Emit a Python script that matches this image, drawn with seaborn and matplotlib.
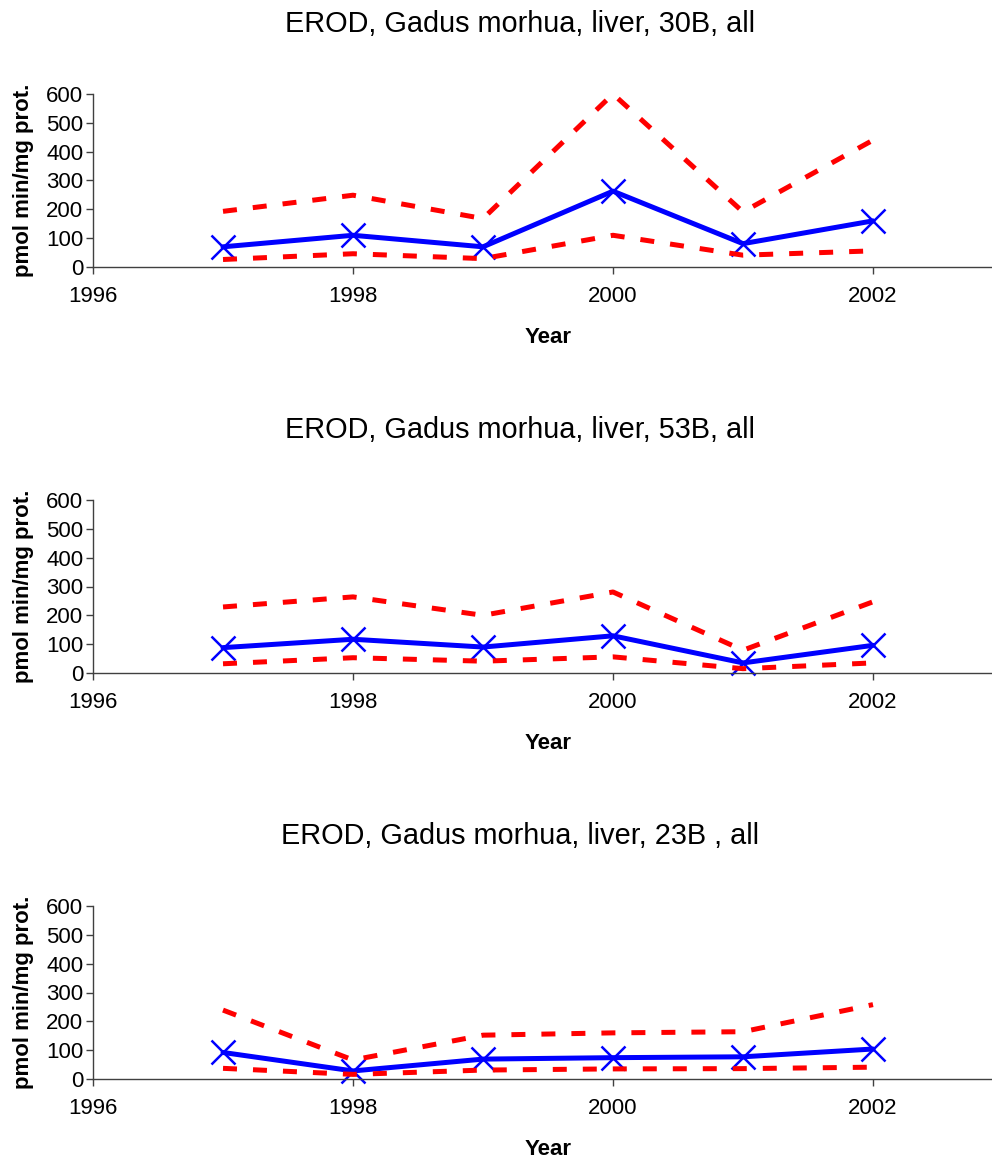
import matplotlib
matplotlib.use("Agg")
import matplotlib.pyplot as plt
import seaborn as sns
import pandas as pd

# ---- data ----
years = [1997, 1998, 1999, 2000, 2001, 2002]

titles = ["EROD, Gadus morhua, liver, 30B, all",
          "EROD, Gadus morhua, liver, 53B, all",
          "EROD, Gadus morhua, liver, 23B , all"]

mean_30B = [70, 110, 70, 263, 81, 160]
upper_30B = [193, 249, 168, 600, 191, 440]
lower_30B = [26, 46, 29, 110, 41, 56]

mean_53B = [88, 117, 90, 129, 35, 96]
upper_53B = [229, 264, 200, 281, 79, 247]
lower_53B = [32, 53, 41, 56, 15, 35]

mean_23B = [92, 28, 69, 74, 77, 104]
upper_23B = [239, 66, 152, 160, 164, 258]
lower_23B = [37, 16, 31, 35, 36, 41]

x_ticks = [1996, 1998, 2000, 2002]
y_ticks = [0, 100, 200, 300, 400, 500, 600]
x_label = "Year"
y_label = "pmol min/mg prot."

panels = [
    (titles[0], mean_30B, upper_30B, lower_30B),
    (titles[1], mean_53B, upper_53B, lower_53B),
    (titles[2], mean_23B, upper_23B, lower_23B),
]

# ---- style ----
sns.set_style("white")
plt.rcParams["font.family"] = ["Liberation Sans", "DejaVu Sans"]
plt.rcParams["text.color"] = "black"
plt.rcParams["axes.labelcolor"] = "black"

W, H = 992, 1158
fig = plt.figure(figsize=(W / 100, H / 100), dpi=100)

tops = [94, 500, 906]
bottoms = [267, 673, 1079]
left_px = 93
width_px = 910
spine_col = "#404040"

for (title, mean, upper, lower), top, bot in zip(panels, tops, bottoms):
    ax = fig.add_axes([left_px / W, 1 - bot / H, width_px / W, (bot - top) / H])
    df = pd.DataFrame({"Year": years, "mean": mean, "upper": upper, "lower": lower})

    sns.lineplot(data=df, x="Year", y="mean", ax=ax, color="#0000ff",
                 linewidth=3.6, marker="x", markersize=17,
                 markeredgewidth=1.8, markeredgecolor="#0000ff",
                 errorbar=None, clip_on=False)
    sns.lineplot(data=df, x="Year", y="upper", ax=ax, color="#ff0000",
                 linewidth=3.6, linestyle=(0, (2.8, 3.2)), errorbar=None, clip_on=False)
    sns.lineplot(data=df, x="Year", y="lower", ax=ax, color="#ff0000",
                 linewidth=3.6, linestyle=(0, (2.8, 3.2)), errorbar=None, clip_on=False)

    ax.set_xlim(1996, 2003)
    ax.set_ylim(0, 600)
    ax.set_xticks(x_ticks)
    ax.set_yticks(y_ticks)
    ax.set_xticklabels([str(t) for t in x_ticks])
    ax.set_yticklabels([str(t) for t in y_ticks])

    for s in ["top", "right"]:
        ax.spines[s].set_visible(False)
    for s in ["left", "bottom"]:
        ax.spines[s].set_color(spine_col)
        ax.spines[s].set_linewidth(1.0)

    ax.tick_params(axis="both", direction="out", length=5, width=1,
                   color=spine_col, labelsize=16, labelcolor="black",
                   bottom=True, left=True)
    ax.tick_params(axis="x", pad=9)
    ax.tick_params(axis="y", pad=2)

    ax.set_xlabel(x_label, fontsize=16, fontweight="bold", labelpad=14)
    ax.set_ylabel(y_label, fontsize=16, fontweight="bold", labelpad=9)
    ax.set_title(title, fontsize=20.8, x=0.469, pad=45, color="black")

fig.savefig("out.png", dpi=100)
